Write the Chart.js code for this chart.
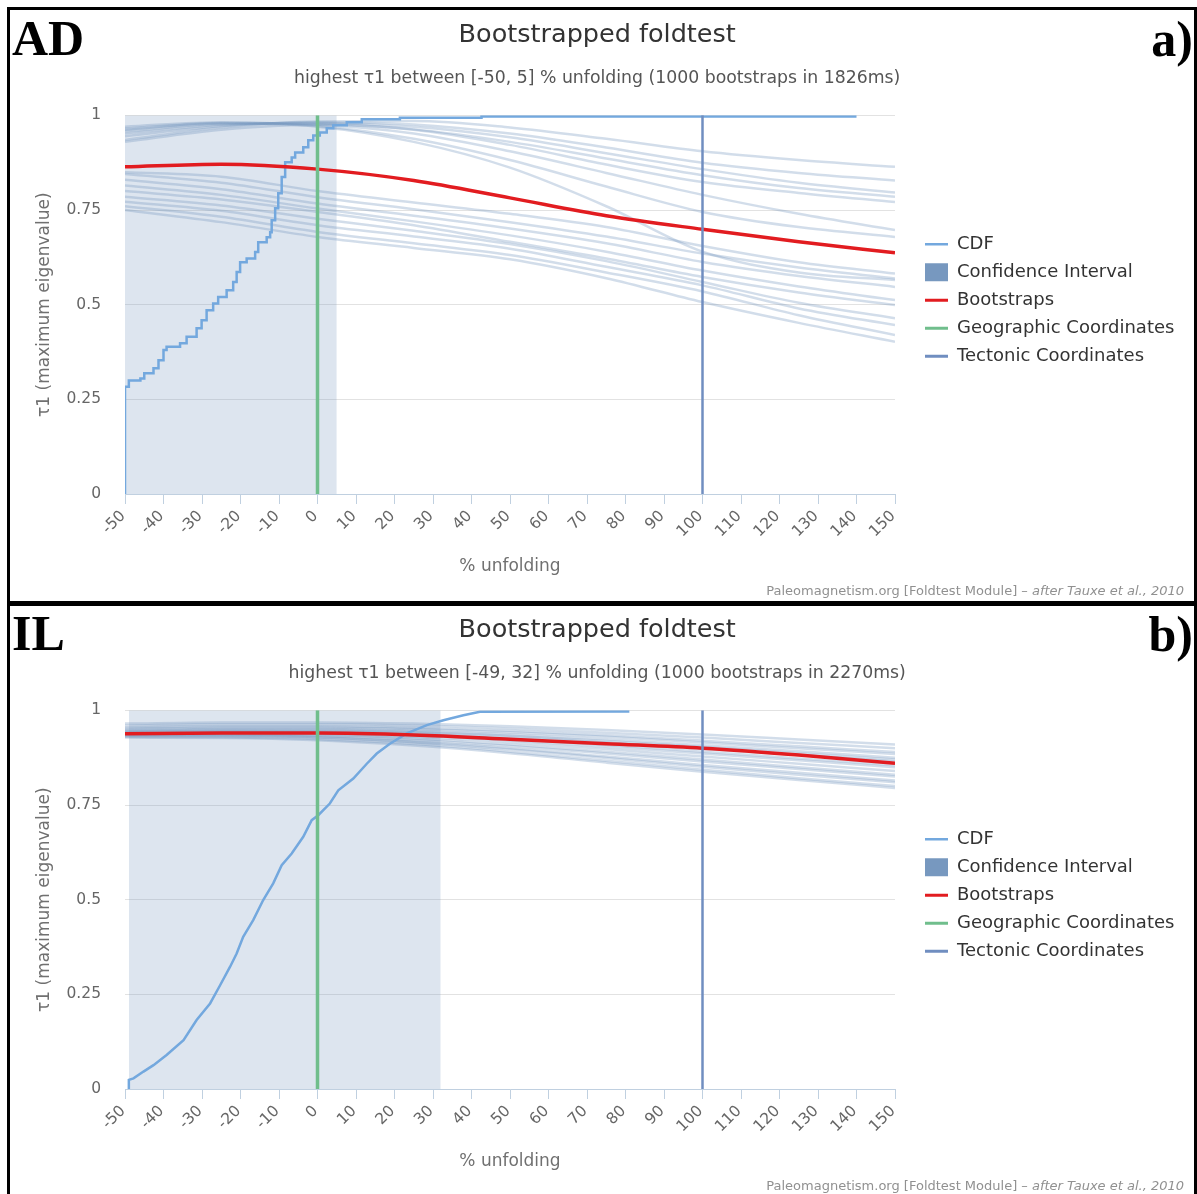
<!DOCTYPE html>
<html><head><meta charset="utf-8">
<script src="https://cdn.jsdelivr.net/npm/chart.js@4.4.1/dist/chart.umd.min.js"></script>
<style>
html,body{margin:0;padding:0;background:#fff;}
body{width:1197px;height:1194px;position:relative;overflow:hidden;font-family:'DejaVu Sans',sans-serif;}
canvas{position:absolute;}
.frame{position:absolute;background:#000;}
.tag{position:absolute;font-family:'Liberation Serif',serif;font-weight:bold;font-size:50px;line-height:50px;color:#000;white-space:nowrap;}
.credit{position:absolute;right:13px;font-size:13px;line-height:14px;color:#909090;white-space:nowrap;font-family:'DejaVu Sans',sans-serif;}
</style></head><body>
<canvas id="ca" width="1184" height="591" style="left:10px;top:10px"></canvas>
<canvas id="cb" width="1184" height="591" style="left:10px;top:605px"></canvas>
<div class="frame" style="left:7px;top:7px;width:1190px;height:3px"></div>
<div class="frame" style="left:7px;top:7px;width:3px;height:1187px"></div>
<div class="frame" style="left:1194px;top:7px;width:3px;height:1187px"></div>
<div class="frame" style="left:7px;top:601px;width:1190px;height:5px"></div>
<div class="tag" style="left:12px;top:13px">AD</div>
<div class="tag" style="right:4px;top:14px">a)</div>
<div class="tag" style="left:12px;top:608px">IL</div>
<div class="tag" style="right:4px;top:609px">b)</div>
<div class="credit" style="top:584px">Paleomagnetism.org [Foldtest Module] – <i>after Tauxe et al., 2010</i></div>
<div class="credit" style="top:1179px">Paleomagnetism.org [Foldtest Module] – <i>after Tauxe et al., 2010</i></div>
<script>
// ---------- shared axes ----------
const xTicks = [-50,-40,-30,-20,-10,0,10,20,30,40,50,60,70,80,90,100,110,120,130,140,150];
const yTicks = [0,0.25,0.5,0.75,1];
const yTickLabels = ['0','0.25','0.5','0.75','1'];
const bootX = [-50,-25,0,25,50,75,100,125,150];
const legendNames = ['CDF','Confidence Interval','Bootstraps','Geographic Coordinates','Tectonic Coordinates'];
const geoX = 0;
const tectX = 100;

// ---------- panel a (AD) ----------
const titleA = 'Bootstrapped foldtest';
const subtitleA = 'highest τ1 between [-50, 5] % unfolding (1000 bootstraps in 1826ms)';
const ciA = [-50, 5];
const cdfAx = [-50,-50,-49,-46,-45,-42.6,-41.3,-40,-39.2,-35.7,-34,-31.4,-30.1,-28.8,-27.1,-25.8,-23.6,-21.9,-21,-20.1,-18.4,-16.2,-15.4,-13.2,-12.3,-11.9,-11,-10.2,-9.3,-8.4,-6.7,-5.8,-3.7,-2.4,-1.1,0.6,2.4,4.1,7.6,11.5,21.4,42.6,140];
const cdfAy = [0,0.283,0.30,0.305,0.319,0.332,0.353,0.38,0.389,0.398,0.415,0.438,0.459,0.485,0.503,0.52,0.538,0.56,0.586,0.612,0.622,0.639,0.665,0.678,0.691,0.723,0.755,0.794,0.837,0.876,0.889,0.902,0.916,0.934,0.947,0.955,0.966,0.974,0.982,0.99,0.994,0.997,0.997];
const meanA = [0.864,0.871,0.858,0.828,0.782,0.735,0.699,0.666,0.637];
const bootA = [
 [0.935,0.968,0.984,0.985,0.968,0.938,0.905,0.882,0.864],
 [0.945,0.972,0.982,0.976,0.952,0.915,0.875,0.848,0.828],
 [0.952,0.975,0.980,0.970,0.942,0.900,0.858,0.822,0.796],
 [0.958,0.977,0.978,0.963,0.930,0.886,0.842,0.808,0.785],
 [0.930,0.962,0.975,0.962,0.922,0.870,0.824,0.795,0.771],
 [0.965,0.980,0.976,0.952,0.905,0.848,0.790,0.740,0.697],
 [0.970,0.982,0.972,0.938,0.882,0.812,0.745,0.705,0.679],
 [0.962,0.979,0.970,0.930,0.862,0.760,0.640,0.585,0.565],
 [0.850,0.838,0.800,0.770,0.740,0.705,0.655,0.612,0.582],
 [0.845,0.822,0.784,0.752,0.718,0.680,0.635,0.598,0.569],
 [0.830,0.805,0.767,0.735,0.701,0.662,0.613,0.576,0.547],
 [0.815,0.790,0.754,0.720,0.683,0.640,0.590,0.548,0.512],
 [0.800,0.778,0.745,0.710,0.666,0.622,0.573,0.532,0.499],
 [0.785,0.762,0.727,0.695,0.660,0.615,0.560,0.505,0.464],
 [0.772,0.748,0.710,0.680,0.648,0.600,0.551,0.490,0.446],
 [0.760,0.732,0.692,0.662,0.631,0.585,0.535,0.472,0.420],
 [0.750,0.718,0.679,0.650,0.620,0.570,0.507,0.452,0.402]
];

// ---------- panel b (IL) ----------
const titleB = 'Bootstrapped foldtest';
const subtitleB = 'highest τ1 between [-49, 32] % unfolding (1000 bootstraps in 2270ms)';
const ciB = [-49, 32];
const cdfBx = [-49,-49,-47.8,-45.2,-42.6,-39.2,-34.8,-31.4,-27.9,-25.3,-22.7,-21,-19.3,-16.7,-14.1,-11.5,-9.3,-6.7,-3.7,-1.5,0.2,3.2,5.4,9.3,12.8,15.4,18.8,23.2,28.4,32.7,37.9,42.2,81];
const cdfBy = [0,0.024,0.028,0.046,0.063,0.09,0.129,0.182,0.226,0.274,0.323,0.358,0.402,0.446,0.499,0.543,0.591,0.622,0.666,0.71,0.723,0.754,0.789,0.82,0.859,0.886,0.912,0.939,0.961,0.974,0.987,0.996,0.997];
const meanB = [0.938,0.940,0.940,0.935,0.924,0.912,0.900,0.882,0.860];
const bootB = [
 [0.965,0.968,0.968,0.965,0.958,0.948,0.936,0.923,0.910],
 [0.960,0.963,0.963,0.960,0.952,0.941,0.928,0.914,0.900],
 [0.955,0.958,0.958,0.954,0.946,0.934,0.920,0.905,0.890],
 [0.952,0.955,0.955,0.951,0.942,0.930,0.915,0.900,0.885],
 [0.948,0.951,0.951,0.946,0.937,0.924,0.908,0.892,0.875],
 [0.946,0.949,0.948,0.943,0.933,0.919,0.903,0.887,0.870],
 [0.944,0.946,0.945,0.940,0.930,0.915,0.898,0.882,0.865],
 [0.942,0.944,0.943,0.937,0.925,0.909,0.891,0.873,0.855],
 [0.940,0.942,0.941,0.934,0.921,0.904,0.886,0.868,0.850],
 [0.938,0.940,0.938,0.930,0.916,0.898,0.878,0.859,0.840],
 [0.936,0.937,0.935,0.926,0.910,0.891,0.870,0.850,0.830],
 [0.934,0.935,0.932,0.922,0.906,0.886,0.865,0.845,0.825],
 [0.932,0.932,0.928,0.917,0.900,0.878,0.856,0.835,0.815],
 [0.935,0.934,0.929,0.916,0.897,0.874,0.851,0.830,0.810],
 [0.930,0.929,0.924,0.911,0.891,0.867,0.843,0.821,0.800],
 [0.928,0.927,0.921,0.907,0.887,0.862,0.838,0.816,0.795]
];

// ---------- styles ----------
const C_CDF = 'rgb(115,168,222)';
const C_CI_FILL = 'rgba(119,152,191,0.25)';
const C_CI = 'rgb(119,152,191)';
const C_RED = 'rgb(226,28,32)';
const C_GREEN = 'rgb(112,190,140)';
const C_TECT = 'rgb(112,142,192)';
const C_BOOT = 'rgba(119,152,191,0.33)';
const legendStyle = [
  {ps:'line', c:C_CDF, w:2.5},
  {ps:'rect', c:C_CI, w:0},
  {ps:'line', c:C_RED, w:3},
  {ps:'line', c:C_GREEN, w:3},
  {ps:'line', c:C_TECT, w:3}
];

Chart.defaults.font.family = "'DejaVu Sans', sans-serif";

const LEGEND_FONT = 18;
const mctx = document.createElement('canvas').getContext('2d');
mctx.font = LEGEND_FONT + "px 'DejaVu Sans'";
const legendTextW = Math.max(...legendNames.map(t => mctx.measureText(t).width));
const legendLeft = 905, boxW = 23, legPad = 10;
const legendW = legPad + boxW + LEGEND_FONT/2 + legendTextW + 10;
const padRight = Math.max(0, 1184 - legendLeft - legendW);

function pts(xs, ys) { return xs.map((x, i) => ({x, y: ys[i]})); }

function makeChart(id, title, subtitle, cdfX, cdfY, cdfStepped, ci, mean, boots) {
  const datasets = [
    {label: legendNames[0], data: pts(cdfX, cdfY), stepped: cdfStepped, borderColor: C_CDF, borderWidth: 2.5, order: 3},
    {label: legendNames[1], data: [{x: ci[0], y: 1}, {x: ci[1], y: 1}], fill: 'origin', backgroundColor: C_CI_FILL, borderColor: 'rgba(0,0,0,0)', borderWidth: 0, order: 30},
    {label: legendNames[2], data: pts(bootX, mean), borderColor: C_RED, borderWidth: 3.5, cubicInterpolationMode: 'monotone', order: 2},
    {label: legendNames[3], data: [{x: geoX, y: 0}, {x: geoX, y: 1}], borderColor: C_GREEN, borderWidth: 3.5, order: 1},
    {label: legendNames[4], data: [{x: tectX, y: 0}, {x: tectX, y: 1}], borderColor: C_TECT, borderWidth: 2.5, order: 1}
  ];
  boots.forEach(row => datasets.push({label: 'bootstrap', data: pts(bootX, row), borderColor: C_BOOT, borderWidth: 2.5, cubicInterpolationMode: 'monotone', order: 10}));
  datasets.forEach(d => { d.xAxisID = 'x'; d.yAxisID = 'y'; d.pointRadius = 0; d.pointHoverRadius = 0; if (d.fill === undefined) d.fill = false; });

  return new Chart(document.getElementById(id), {
    type: 'line',
    data: {datasets},
    options: {
      responsive: false,
      animation: false,
      devicePixelRatio: 1,
      layout: {padding: {top: 0, left: 0, bottom: 0, right: padRight}},
      plugins: {
        tooltip: {enabled: false},
        title: {display: true, text: title, color: '#333', font: {size: 25.5, weight: 'normal'}, padding: {top: 10, bottom: 0}},
        subtitle: {display: true, text: subtitle, color: '#555', font: {size: 17.3, weight: 'normal'}, padding: {top: 18, bottom: 26}},
        legend: {
          position: 'right', align: 'start', fullSize: false, maxWidth: 400,
          title: {display: true, text: '', font: {size: 10}, padding: {top: 98, bottom: 0}},
          labels: {
            usePointStyle: true, pointStyleWidth: boxW, boxHeight: LEGEND_FONT, padding: legPad,
            color: '#333', font: {size: LEGEND_FONT},
            generateLabels: (chart) => {
              const items = Chart.defaults.plugins.legend.labels.generateLabels(chart)
                .filter(it => it.datasetIndex < 5)
                .sort((a, b) => a.datasetIndex - b.datasetIndex);
              items.forEach(it => {
                const s = legendStyle[it.datasetIndex];
                it.pointStyle = s.ps; it.fillStyle = s.c; it.strokeStyle = s.c; it.lineWidth = s.w;
              });
              return items;
            }
          }
        }
      },
      scales: {
        x: {
          type: 'linear', min: -50, max: 150, position: 'bottom',
          afterBuildTicks: s => { s.ticks = xTicks.map(v => ({value: v})); },
          afterFit: s => { s.height = 107; },
          grid: {drawOnChartArea: false, drawTicks: true, tickLength: 10, color: '#C0D0E0'},
          border: {display: true, color: '#C0D0E0', width: 1},
          ticks: {autoSkip: false, minRotation: 45, maxRotation: 45, padding: 3, labelOffset: -2, color: '#666', font: {size: 15.5}},
          title: {display: true, text: '% unfolding', color: '#707070', font: {size: 17}, padding: {top: 0, bottom: 24}}
        },
        y: {
          type: 'linear', min: 0, max: 1, position: 'left',
          afterBuildTicks: s => { s.ticks = yTicks.map(v => ({value: v})); },
          afterFit: s => { s.width = 115; },
          grid: {drawTicks: false, color: '#e2e2e2'},
          border: {display: false},
          ticks: {padding: 24, color: '#666', font: {size: 15.5}, callback: (v, i) => yTickLabels[i]},
          title: {display: true, text: 'τ1 (maximum eigenvalue)', color: '#707070', font: {size: 17}, padding: {top: 24.8, bottom: 0}}
        },
        yR: {
          axis: 'y', type: 'linear', position: 'right', display: true, min: 0, max: 1,
          afterFit: s => { s.width = 20; },
          grid: {display: false, drawTicks: false},
          border: {display: false},
          ticks: {display: false}
        }
      }
    }
  });
}

makeChart('ca', titleA, subtitleA, cdfAx, cdfAy, true, ciA, meanA, bootA);
makeChart('cb', titleB, subtitleB, cdfBx, cdfBy, false, ciB, meanB, bootB);
</script>
</body></html>
